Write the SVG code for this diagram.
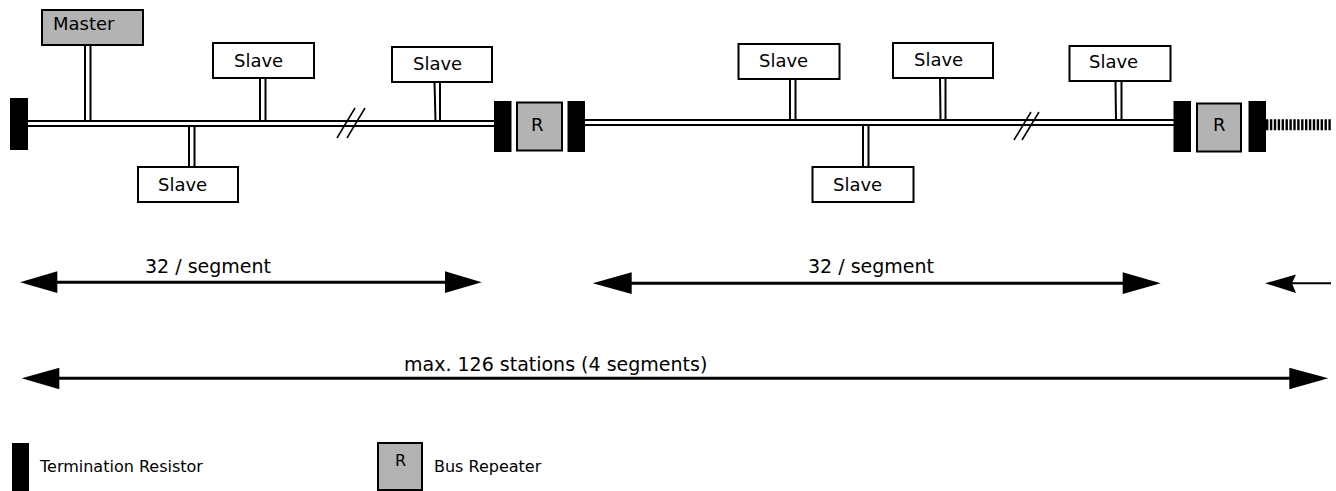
<svg xmlns="http://www.w3.org/2000/svg" width="1336" height="491" viewBox="0 0 1336 491">
<style>
text{font-family:"DejaVu Sans","Verdana",sans-serif;fill:#000}
.lbl{font-size:18px}
.dim{font-size:19px}
.leg{font-size:16px}
.box{fill:#fff;stroke:#000;stroke-width:2}
.gbox{fill:#b3b3b3;stroke:#000;stroke-width:2}
.term{fill:#000}
.w{stroke:#000;stroke-width:2;fill:none}
.sl{stroke:#000;stroke-width:1.5;fill:none}
.arr{stroke:#000;stroke-width:3;fill:none}
.head{fill:#000}
</style>
<g id="connectors">
<line class="w" x1="28" y1="121" x2="494" y2="121"/>
<line class="w" x1="28" y1="126" x2="494" y2="126"/>
<line class="w" x1="585" y1="120" x2="1174" y2="120"/>
<line class="w" x1="585" y1="125" x2="1174" y2="125"/>
<line class="sl" x1="337" y1="138" x2="355" y2="108"/>
<line class="sl" x1="347" y1="138" x2="365" y2="108"/>
<line class="sl" x1="1014" y1="140" x2="1031" y2="112"/>
<line class="sl" x1="1022" y1="140" x2="1039" y2="112"/>
<line class="w" x1="85" y1="45" x2="85" y2="121"/>
<line class="w" x1="90.5" y1="45" x2="90.5" y2="121"/>
<line class="w" x1="260" y1="78" x2="260" y2="121"/>
<line class="w" x1="265.5" y1="78" x2="265.5" y2="121"/>
<line class="w" x1="189" y1="126" x2="189" y2="167"/>
<line class="w" x1="194.5" y1="126" x2="194.5" y2="167"/>
<line class="w" x1="434.5" y1="82" x2="435.5" y2="121"/>
<line class="w" x1="440" y1="82" x2="440" y2="121"/>
<line class="w" x1="790" y1="79" x2="790" y2="120"/>
<line class="w" x1="795.5" y1="79" x2="795.5" y2="120"/>
<line class="w" x1="940" y1="78" x2="940.5" y2="120"/>
<line class="w" x1="945.5" y1="78" x2="945.5" y2="120"/>
<line class="w" x1="863" y1="125" x2="863" y2="167"/>
<line class="w" x1="868.5" y1="125" x2="868.5" y2="167"/>
<line class="w" x1="1115.5" y1="81" x2="1116" y2="120"/>
<line class="w" x1="1121.5" y1="81" x2="1121.5" y2="120"/>
<line x1="1266" y1="124.7" x2="1331" y2="124.7" stroke="#000" stroke-width="11" stroke-dasharray="2.4 1.5"/>
<line class="arr" x1="55" y1="282.3" x2="447" y2="282.3"/>
<polygon class="head" points="20,282.3 57.3,271.3 57.3,293"/>
<polygon class="head" points="481.7,282.3 445,271.3 445,293"/>
<line class="arr" x1="630" y1="283.3" x2="1125" y2="283.3"/>
<polygon class="head" points="592.7,283.3 631.7,272.3 631.7,294"/>
<polygon class="head" points="1160.7,283.3 1122.7,272.3 1122.7,294"/>
<line x1="1290" y1="283.3" x2="1331" y2="283.3" stroke="#000" stroke-width="2"/>
<polygon class="head" points="1265,283.3 1296,274.5 1292,283.3 1296,293"/>
<line class="arr" x1="57" y1="378.3" x2="1292" y2="378.3"/>
<polygon class="head" points="21.7,378.3 59.3,367.7 59.3,389.3"/>
<polygon class="head" points="1328.3,378.3 1289.3,367.7 1289.3,389.3"/>
</g>
<g id="term1"><rect class="term" x="10" y="98" width="18" height="52"/></g>
<g id="master"><rect class="gbox" x="42" y="10" width="101" height="35"/><text class="lbl" x="53" y="30">Master</text></g>
<g id="slave1"><rect class="box" x="213" y="43" width="101" height="35"/><text class="lbl" x="234" y="67">Slave</text></g>
<g id="slave2"><rect class="box" x="138" y="167" width="100" height="35"/><text class="lbl" x="158" y="191">Slave</text></g>
<g id="slave3"><rect class="box" x="392" y="47" width="100" height="35"/><text class="lbl" x="413" y="70">Slave</text></g>
<g id="term2"><rect class="term" x="494" y="101" width="17.5" height="51"/></g>
<g id="rep1"><rect class="gbox" x="517" y="102.5" width="45" height="48"/><text class="lbl" x="531" y="131">R</text></g>
<g id="term3"><rect class="term" x="567.5" y="101" width="17.5" height="51"/></g>
<g id="slave4"><rect class="box" x="738.5" y="44" width="101" height="35"/><text class="lbl" x="759" y="67">Slave</text></g>
<g id="slave5"><rect class="box" x="893" y="43" width="100" height="35"/><text class="lbl" x="914" y="66">Slave</text></g>
<g id="slave6"><rect class="box" x="812.5" y="167" width="101" height="35"/><text class="lbl" x="833" y="191">Slave</text></g>
<g id="slave7"><rect class="box" x="1069.5" y="46" width="101" height="35"/><text class="lbl" x="1089" y="68">Slave</text></g>
<g id="term4"><rect class="term" x="1173.5" y="101" width="17.5" height="51"/></g>
<g id="rep2"><rect class="gbox" x="1197" y="103.5" width="44" height="48"/><text class="lbl" x="1213" y="131">R</text></g>
<g id="term5"><rect class="term" x="1248.5" y="101" width="17.5" height="51"/></g>
<g id="labels">
<text class="dim" x="145" y="273">32 / segment</text>
<text class="dim" x="808" y="272.5">32 / segment</text>
<text class="dim" x="404" y="371">max. 126 stations (4 segments)</text>
</g>
<g id="legend">
<rect class="term" x="12" y="443" width="17" height="48"/>
<text class="leg" x="40" y="472">Termination Resistor</text>
<rect class="gbox" x="378" y="443" width="44" height="47"/>
<text class="leg" x="395" y="466">R</text>
<text class="leg" x="434" y="472">Bus Repeater</text>
</g>
</svg>
